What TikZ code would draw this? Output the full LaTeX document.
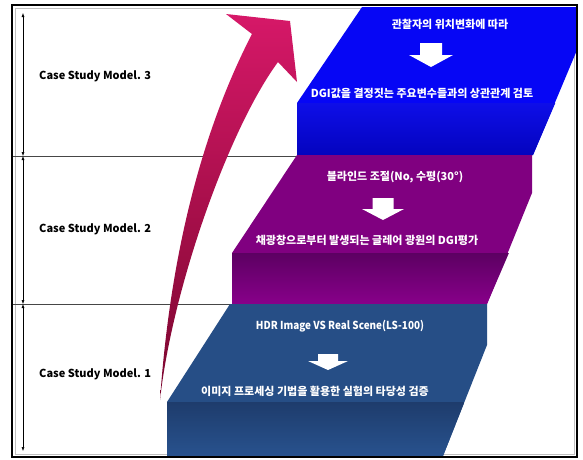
\documentclass[tikz,border=0pt]{standalone}
\usepackage{fontspec}
\setmainfont{Noto Sans CJK KR}
\usetikzlibrary{arrows.meta}
\definecolor{stepblue}{RGB}{6,6,245}
\definecolor{stepblueA}{RGB}{14,14,232}
\definecolor{stepblueB}{RGB}{4,4,190}
\definecolor{steppurple}{RGB}{128,0,128}
\definecolor{steppurpleA}{RGB}{92,0,98}
\definecolor{steppurpleB}{RGB}{136,0,138}
\definecolor{stepnavy}{RGB}{38,78,134}
\definecolor{stepnavyA}{RGB}{30,60,108}
\definecolor{stepnavyB}{RGB}{40,82,142}
\definecolor{arrowtop}{RGB}{214,24,104}
\definecolor{arrowbot}{RGB}{122,6,46}
\definecolor{rulegray}{RGB}{70,70,70}
\tikzset{
  steptext/.style={text=white, font=\bfseries\fontsize{11}{13}\selectfont, inner sep=0pt, anchor=center},
  caselabel/.style={text=black, font=\bfseries\fontsize{11}{13}\selectfont, inner sep=0pt, anchor=west},
  dimline/.style={draw=black, line width=0.5pt, {Latex[length=4pt,width=3pt]}-{Latex[length=4pt,width=3pt]}},
  sepline/.style={draw=rulegray, line width=0.6pt},
  downarrow/.pic={
    \fill[white] (-\pgfkeysvalueof{/tikz/bw},0) -- (\pgfkeysvalueof{/tikz/bw},0)
      -- (\pgfkeysvalueof{/tikz/bw},\pgfkeysvalueof{/tikz/bs})
      -- (2*\pgfkeysvalueof{/tikz/bw},\pgfkeysvalueof{/tikz/bs})
      -- (0,\pgfkeysvalueof{/tikz/bh})
      -- (-2*\pgfkeysvalueof{/tikz/bw},\pgfkeysvalueof{/tikz/bs})
      -- (-\pgfkeysvalueof{/tikz/bw},\pgfkeysvalueof{/tikz/bs}) -- cycle;
  },
  bw/.initial=10.5, bs/.initial=12, bh/.initial=24
}
\begin{document}
\begin{tikzpicture}[x=1pt,y=-1pt]
\useasboundingbox (0,0) rectangle (583,459);
\fill[white] (0,0) rectangle (583,459);
% inner light frame line
\draw[gray!50, line width=0.6pt] (15,8) rectangle (574,454);

% separators
\draw[sepline] (12,156) -- (297,156);
\draw[sepline] (12,304) -- (232,304);

% dimension arrows
\coordinate (d0) at (23,13);
\coordinate (d1) at (23,156);
\coordinate (d2) at (23,304);
\coordinate (d3) at (23,451);
\draw[dimline] (d0) -- (d1);
\draw[dimline] (d1) -- (d2);
\draw[dimline] (d2) -- (d3);

% step 3 (blue)
\fill[stepblue] (362,7) -- (577,7) -- (577,50) -- (533,155) -- (297,155) -- (297,103) -- cycle;
\shade[top color=stepblueA, bottom color=stepblueB] (297,103) -- (555.3,103) -- (533,155) -- (297,155) -- cycle;

% step 2 (purple)
\fill[steppurple] (297,155) -- (532,155) -- (532,193) -- (487,304) -- (232,304) -- (232,253) -- cycle;
\shade[top color=steppurpleA, bottom color=steppurpleB] (232,253) -- (508.9,253) -- (487,304) -- (232,304) -- cycle;

% step 1 (navy)
\fill[stepnavy] (230,304) -- (487,304) -- (487,345) -- (443,456) -- (167,456) -- (167,402) -- cycle;
\shade[top color=stepnavyA, bottom color=stepnavyB] (167,402) -- (464.4,402) -- (443,456) -- (167,456) -- cycle;

% curved arrow
\shade[top color=arrowtop, bottom color=arrowbot]
  (160,400) .. controls (168,285) and (192,150) .. (252,34)
  -- (226,14) -- (290,21) -- (297,82) -- (278,62)
  .. controls (228,130) and (172,290) .. (160,400) -- cycle;

% outer frame
\draw[black, line width=2pt] (12,4.5) rectangle (577,457);

% labels
\node[caselabel] (l3) at (39,76) {Case Study Model. 3};
\node[caselabel] (l2) at (39,229) {Case Study Model. 2};
\node[caselabel] (l1) at (39,374) {Case Study Model. 1};

% step texts
\node[steptext] (t3a) at (450,24) {관찰자의 위치변화에 따라};
\node[steptext] (t3b) at (422,93) {DGI값을 결정짓는 주요변수들과의 상관관계 검토};
\node[steptext] (t2a) at (395,177) {블라인드 조절(No, 수평(30°)};
\node[steptext] (t2b) at (367,240) {채광창으로부터 발생되는 글레어 광원의 DGI평가};
\node[steptext, xscale=0.9] (t1a) at (340,326) {HDR Image VS Real Scene(LS-100)};
\node[steptext] (t1b) at (315,391) {이미지 프로세싱 기법을 활용한 실험의 타당성 검증};

% block arrows
\pic[bw=11, bs=12, bh=24] at (431,43) {downarrow};
\pic[bw=10.5, bs=11, bh=22] at (383,198) {downarrow};
\pic[bw=10, bs=7, bh=16] at (328,354) {downarrow};
\end{tikzpicture}
\end{document}
